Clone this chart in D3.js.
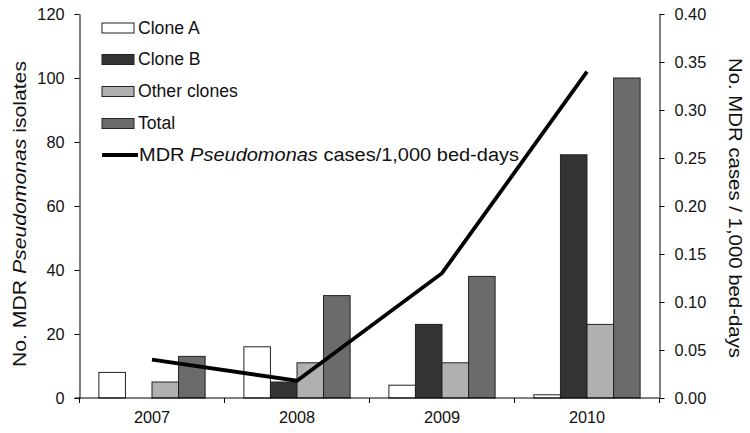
<!DOCTYPE html>
<html><head><meta charset="utf-8">
<script src="https://cdn.jsdelivr.net/npm/d3@7"></script>
<style>body{margin:0;background:#fff;} text{font-family:"Liberation Sans",Arial,sans-serif;}</style>
</head><body><svg id="c" width="750" height="433"></svg>
<script>
const years = ["2007","2008","2009","2010"];
const cloneA = [8,16,4,1];
const cloneB = [0,5,23,76];
const otherClones = [5,11,11,23];
const total = [13,32,38,100];
const casesPer1000 = [0.04,0.018,0.13,0.34];
const leftTicks = [0,20,40,60,80,100,120];
const rightTicks = [0,0.05,0.10,0.15,0.20,0.25,0.30,0.35,0.40];

const seriesNames = ["Clone A","Clone B","Other clones","Total"];
const seriesVals = [cloneA, cloneB, otherClones, total];
const colors = ["#ffffff","#333333","#b0b0b0","#6b6b6b"];

const svg = d3.select("#c");
const m = {l:79.5, r:659.5, t:14, b:398};
const x = d3.scaleBand().domain(years).range([m.l, m.r]).padding(0);
const xs = d3.scaleBand().domain(seriesNames).range([0, x.bandwidth()]).paddingOuter(0.73).paddingInner(0);
const y = d3.scaleLinear().domain([0,120]).range([m.b, m.t]);
const y2 = d3.scaleLinear().domain([0,0.40]).range([m.b, m.t]);

// bars
seriesNames.forEach((s,i)=>{
  svg.append("g").selectAll("rect").data(years).join("rect")
    .attr("x", d=>x(d)+xs(s))
    .attr("y", (d,j)=>y(seriesVals[i][j]))
    .attr("width", xs.bandwidth())
    .attr("height", (d,j)=>m.b - y(seriesVals[i][j]))
    .attr("fill", colors[i]).attr("stroke","#222").attr("stroke-width",1);
});

// axes
const axL = svg.append("g").attr("transform",`translate(${m.l},0)`)
  .call(d3.axisLeft(y).tickValues(leftTicks).tickSize(5).tickSizeOuter(0));
const axR = svg.append("g").attr("transform",`translate(${m.r},0)`)
  .call(d3.axisRight(y2).tickValues(rightTicks).tickSize(5).tickSizeOuter(0).tickFormat(d3.format(".2f")));
// x axis: ticks at category boundaries
const xg = svg.append("g");
xg.append("line").attr("x1",m.l-5).attr("x2",m.r).attr("y1",m.b).attr("y2",m.b).attr("stroke","#000");
const bounds = years.map(d=>x(d)).concat([x(years[years.length-1])+x.bandwidth()]);
xg.selectAll("line.t").data(bounds).join("line").attr("class","t")
  .attr("x1",d=>d).attr("x2",d=>d).attr("y1",m.b).attr("y2",m.b+5).attr("stroke","#000");
xg.selectAll("text").data(years).join("text")
  .attr("x",d=>x(d)+x.bandwidth()/2).attr("y",423).attr("text-anchor","middle")
  .attr("font-size",16.3).attr("fill","#111").text(d=>d);

[axL,axR].forEach(a=>{
  a.selectAll("text").attr("font-size",16.3).attr("fill","#111").style("font-family","Liberation Sans, Arial, sans-serif");
  a.select(".domain").attr("stroke","#000");
});
axL.selectAll("text").attr("x",-15);
axR.selectAll("text").attr("x",15);

// line
const line = d3.line().x((d,i)=>x(years[i])+x.bandwidth()/2).y(d=>y2(d));
svg.append("path").datum(casesPer1000).attr("d",line).attr("fill","none")
  .attr("stroke","#000").attr("stroke-width",3.8);

// axis titles
svg.append("text").attr("transform",`translate(25.5,214) rotate(-90)`)
  .attr("text-anchor","middle").attr("font-size",18).attr("fill","#111")
  .attr("textLength",306).attr("lengthAdjust","spacingAndGlyphs")
  .call(t=>{t.append("tspan").text("No. MDR ");t.append("tspan").attr("font-style","italic").text("Pseudomonas");t.append("tspan").text(" isolates");});
svg.append("text").attr("transform",`translate(729,208) rotate(90)`)
  .attr("text-anchor","middle").attr("font-size",18).attr("fill","#111")
  .attr("textLength",300).attr("lengthAdjust","spacingAndGlyphs")
  .text("No. MDR cases / 1,000 bed-days");

// legend
const lg = svg.append("g");
const base = [33.5,65,97,129];
seriesNames.forEach((s,i)=>{
  lg.append("rect").attr("x",102).attr("y",base[i]-10.5).attr("width",32).attr("height",10)
    .attr("fill",colors[i]).attr("stroke","#222").attr("stroke-width",1);
  lg.append("text").attr("x",138).attr("y",base[i]).attr("font-size",17.6).attr("fill","#111").text(s);
});
lg.append("line").attr("x1",102).attr("x2",138).attr("y1",155).attr("y2",155).attr("stroke","#000").attr("stroke-width",3.8);
lg.append("text").attr("x",139).attr("y",161).attr("font-size",17.6).attr("fill","#111")
  .attr("textLength",380).attr("lengthAdjust","spacingAndGlyphs")
  .call(t=>{t.append("tspan").text("MDR ");t.append("tspan").attr("font-style","italic").text("Pseudomonas");t.append("tspan").text(" cases/1,000 bed-days");});
</script></body></html>
